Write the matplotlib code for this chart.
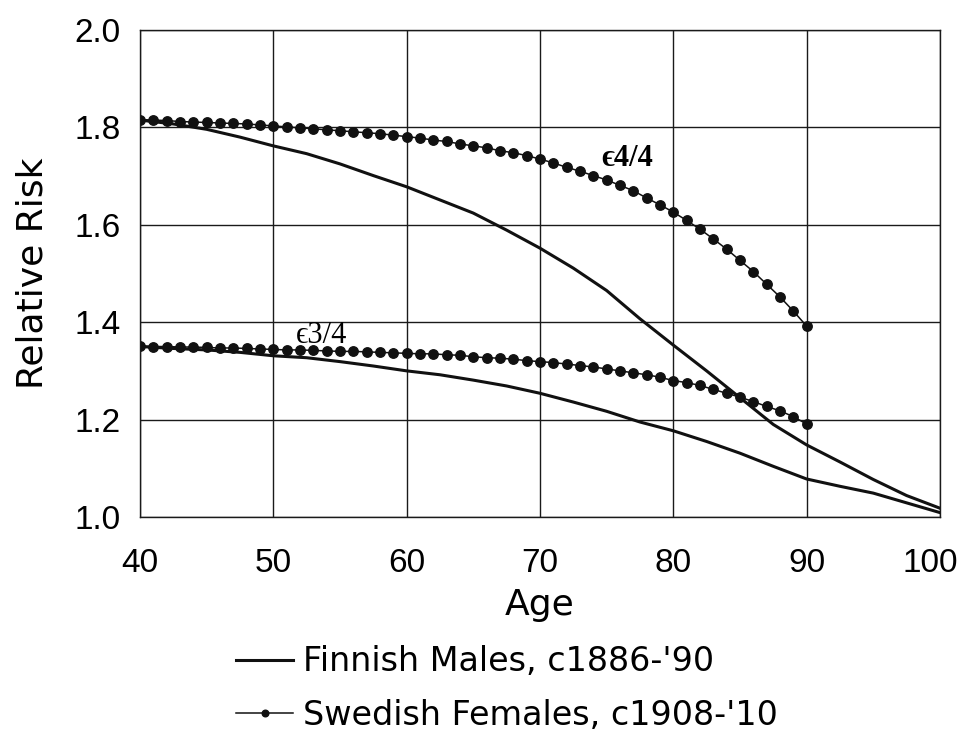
import numpy as np
import matplotlib.pyplot as plt
import matplotlib.transforms as mtransforms

# Swedish females (markers every year, 40-90)
swe_ages = list(range(40, 91))
swe_e44 = [1.816, 1.815, 1.814, 1.812, 1.811, 1.810, 1.809, 1.808, 1.807, 1.805,
           1.803, 1.801, 1.799, 1.797, 1.795, 1.793, 1.791, 1.789, 1.787, 1.784,
           1.781, 1.778, 1.774, 1.771, 1.766, 1.762, 1.758, 1.752, 1.748, 1.742,
           1.735, 1.727, 1.718, 1.710, 1.701, 1.692, 1.681, 1.670, 1.655, 1.641,
           1.626, 1.609, 1.591, 1.571, 1.550, 1.527, 1.504, 1.478, 1.452, 1.423,
           1.392]
swe_e34 = [1.351, 1.350, 1.350, 1.349, 1.349, 1.348, 1.347, 1.347, 1.346, 1.345,
           1.344, 1.343, 1.343, 1.342, 1.341, 1.340, 1.340, 1.339, 1.338, 1.337,
           1.336, 1.335, 1.335, 1.333, 1.332, 1.329, 1.327, 1.326, 1.324, 1.321,
           1.319, 1.317, 1.314, 1.311, 1.308, 1.304, 1.300, 1.296, 1.292, 1.287,
           1.280, 1.276, 1.270, 1.262, 1.254, 1.246, 1.237, 1.227, 1.218, 1.206,
           1.191]

# Finnish males (smooth lines, 40-100)
fin_ages = [40, 42.5, 45, 47.5, 50, 52.5, 55, 57.5, 60, 62.5, 65, 67.5, 70,
            72.5, 75, 77.5, 80, 82.5, 85, 87.5, 90, 92.5, 95, 97.5, 100]
fin_e44 = [1.815, 1.807, 1.796, 1.780, 1.762, 1.746, 1.725, 1.701, 1.678,
           1.651, 1.624, 1.589, 1.552, 1.511, 1.465, 1.407, 1.353, 1.300,
           1.245, 1.190, 1.148, 1.113, 1.077, 1.044, 1.018]
fin_e34 = [1.350, 1.346, 1.343, 1.338, 1.331, 1.327, 1.319, 1.310, 1.300,
           1.292, 1.281, 1.269, 1.254, 1.236, 1.217, 1.195, 1.177, 1.155,
           1.131, 1.104, 1.078, 1.063, 1.049, 1.029, 1.009]

x_ticks = [40, 50, 60, 70, 80, 90, 100]
y_ticks = [1.0, 1.2, 1.4, 1.6, 1.8, 2.0]
y_ticklabels = ['1.0', '1.2', '1.4', '1.6', '1.8', '2.0']

ink = '#111111'
serif = ['Liberation Serif', 'DejaVu Serif']

fig = plt.figure(figsize=(9.64, 7.40), dpi=100)
ax = fig.add_axes([0.1452, 0.3014, 0.8298, 0.6581])

ax.plot(fin_ages, fin_e44, color=ink, lw=2.2, label="Finnish Males, c1886-'90")
ax.plot(fin_ages, fin_e34, color=ink, lw=2.2)
ax.plot(swe_ages, swe_e44, color=ink, lw=1.1, marker='o', ms=6.8,
        label="Swedish Females, c1908-'10")
ax.plot(swe_ages, swe_e34, color=ink, lw=1.1, marker='o', ms=6.8)

ax.text(74.6, 1.737, '\u03f54/4', fontsize=22, fontweight='bold',
        family=serif, va='center', ha='left')
ax.text(51.7, 1.372, '\u03f53/4', fontsize=22, family=serif,
        va='center', ha='left')

ax.set_xlim(40, 100)
ax.set_ylim(1.0, 2.0)
ax.set_xticks(x_ticks)
ax.set_yticks(y_ticks)
ax.set_yticklabels(y_ticklabels)
ax.tick_params(length=0, labelsize=24)
ax.tick_params(axis='x', pad=22)
ax.tick_params(axis='y', pad=14)
for lab in ax.get_xticklabels() + ax.get_yticklabels():
    lab.set_family('Liberation Sans')
# the last x label sits a little inside the figure edge
last = ax.get_xticklabels()[-1]
last.set_transform(last.get_transform() +
                   mtransforms.ScaledTranslation(-10 / 100, 0, fig.dpi_scale_trans))

ax.grid(True, color='#1a1a1a', lw=1.0)
for s in ax.spines.values():
    s.set_color('#1a1a1a')
    s.set_linewidth(1.0)

ax.set_xlabel('Age', fontsize=26, family='DejaVu Sans', labelpad=7)
ax.set_ylabel('Relative Risk', fontsize=26, family='DejaVu Sans', labelpad=18)

leg = fig.legend(loc='upper left', bbox_to_anchor=(0.245, 0.128), frameon=False,
                 prop={'family': 'DejaVu Sans', 'size': 24}, handlelength=1.7,
                 handletextpad=0.3, labelspacing=0.62, numpoints=1,
                 markerscale=0.7, borderpad=0, borderaxespad=0)

fig.savefig('out.png', dpi=100)
